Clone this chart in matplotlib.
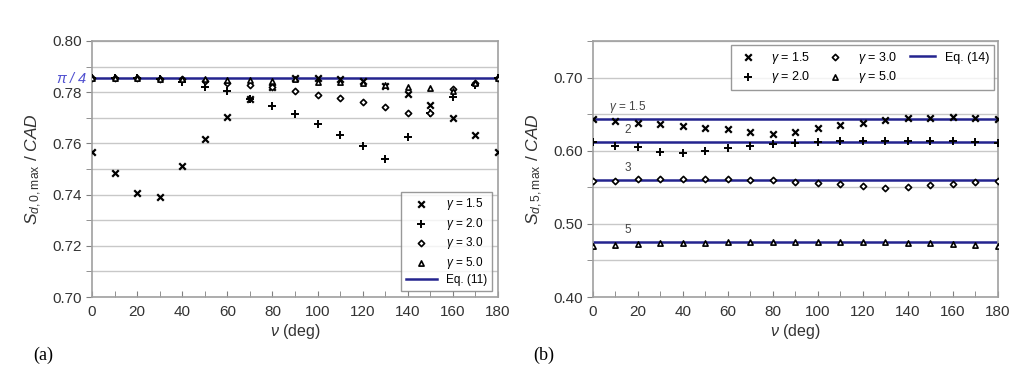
import numpy as np
import matplotlib
matplotlib.use('Agg')
import matplotlib.pyplot as plt
from matplotlib.ticker import MultipleLocator

plt.rcParams['font.family'] = ['Liberation Sans', 'DejaVu Sans']
plt.rcParams['mathtext.fontset'] = 'custom'
plt.rcParams['mathtext.rm'] = 'Liberation Sans'
plt.rcParams['mathtext.it'] = 'Liberation Sans:italic'
plt.rcParams['mathtext.bf'] = 'Liberation Sans:bold'

nu = [0, 10, 20, 30, 40, 50, 60, 70, 80, 90, 100, 110, 120, 130, 140, 150, 160, 170, 180]
gamma_labels = ['1.5', '2.0', '3.0', '5.0']

# panel (a): S_d,0,max / CAD
a_g15 = [0.7565, 0.7486, 0.7407, 0.7389, 0.7513, 0.7616, 0.7704, 0.7775, 0.7819, 0.7854,
         0.7854, 0.7852, 0.7844, 0.7826, 0.7792, 0.7750, 0.7699, 0.7633, 0.7565]
a_g20 = [0.7854, 0.7854, 0.7854, 0.7852, 0.7841, 0.7819, 0.7803, 0.7775, 0.7746, 0.7714,
         0.7675, 0.7634, 0.7590, 0.7538, 0.7626, 0.7718, 0.7782, 0.7828, 0.7854]
a_g30 = [0.7854, 0.7854, 0.7854, 0.7853, 0.7850, 0.7844, 0.7835, 0.7828, 0.7822, 0.7806,
         0.7790, 0.7777, 0.7763, 0.7743, 0.7720, 0.7718, 0.7811, 0.7835, 0.7854]
a_g50 = [0.7854, 0.7854, 0.7854, 0.7853, 0.7852, 0.7850, 0.7848, 0.7848, 0.7845, 0.7852,
         0.7841, 0.7839, 0.7835, 0.7828, 0.7819, 0.7817, 0.7805, 0.7835, 0.7854]
a_eq = np.pi / 4

# panel (b): S_d,5,max / CAD
b_g15 = [0.6427, 0.6408, 0.6380, 0.6359, 0.6336, 0.6313, 0.6295, 0.6258, 0.6222, 0.6258,
         0.6313, 0.6354, 0.6380, 0.6418, 0.6441, 0.6450, 0.6459, 0.6450, 0.6432]
b_g20 = [0.6113, 0.6067, 0.6045, 0.5985, 0.5963, 0.5999, 0.6040, 0.6067, 0.6090, 0.6109,
         0.6122, 0.6131, 0.6136, 0.6136, 0.6136, 0.6131, 0.6131, 0.6122, 0.6109]
b_g30 = [0.5585, 0.5585, 0.5608, 0.5613, 0.5617, 0.5617, 0.5608, 0.5604, 0.5595, 0.5576,
         0.5558, 0.5540, 0.5517, 0.5488, 0.5499, 0.5526, 0.5540, 0.5567, 0.5585]
b_g50 = [0.4703, 0.4712, 0.4726, 0.4735, 0.4744, 0.4744, 0.4749, 0.4749, 0.4758, 0.4758,
         0.4749, 0.4749, 0.4749, 0.4749, 0.4744, 0.4735, 0.4726, 0.4712, 0.4703]
b_eq = [0.6427, 0.6113, 0.5595, 0.4749]
b_eq_labels = [r'$\gamma$ = 1.5', '2', '3', '5']

blue = '#24248f'
gray = '#a0a0a0'
marker_styles = [dict(marker='x', s=22, c='k', linewidths=1.6),
                 dict(marker='+', s=34, c='k', linewidths=1.4),
                 dict(marker='D', s=10, facecolors='white', edgecolors='k', linewidths=1.2),
                 dict(marker='^', s=14, facecolors='white', edgecolors='k', linewidths=1.2)]

fig = plt.figure(figsize=(10.24, 3.83), dpi=100)
axa = fig.add_axes([0.0898, 0.2245, 0.3965, 0.6685])
axb = fig.add_axes([0.579, 0.2245, 0.3955, 0.6685])


def style_axes(ax, ylim, major, minor, fmt):
    ax.set_xlim(0, 180)
    ax.set_ylim(*ylim)
    ax.xaxis.set_major_locator(MultipleLocator(20))
    ax.xaxis.set_minor_locator(MultipleLocator(10))
    ax.yaxis.set_major_locator(MultipleLocator(major))
    ax.yaxis.set_minor_locator(MultipleLocator(minor))
    ax.yaxis.set_major_formatter(plt.FormatStrFormatter(fmt))
    ax.grid(True, axis='y', which='both', color='#c8c8c8', lw=1.0, zorder=0)
    for sp in ax.spines.values():
        sp.set_color(gray)
        sp.set_linewidth(1.2)
    ax.tick_params(axis='x', which='both', direction='in', length=4, color='#808080',
                   labelsize=11, labelcolor='#333333', pad=6)
    ax.tick_params(axis='y', which='both', direction='out', length=4, color='#808080',
                   labelsize=11, labelcolor='#333333', pad=3)
    ax.set_xlabel(r'$\nu$ (deg)', fontsize=11.5, color='#333333', labelpad=2)
    ax.set_axisbelow(True)


# (a)
style_axes(axa, (0.70, 0.80), 0.02, 0.01, '%.2f')
axa.plot(nu, [a_eq] * len(nu), color=blue, lw=1.8, zorder=2, label='Eq. (11)')
for vals, st, g in zip([a_g15, a_g20, a_g30, a_g50], marker_styles, gamma_labels):
    axa.scatter(nu, vals, zorder=3, label=r'$\gamma$ = ' + g, **st)
axa.text(-0.012, a_eq, r'$\pi$ / 4', transform=axa.get_yaxis_transform(), ha='right',
         va='center', color='#5050d0', fontsize=10.5, style='italic')
axa.set_ylabel(r'$S_{d,0,\mathrm{max}}$ / $CAD$', fontsize=12.5, color='#333333', labelpad=6)
h, l = axa.get_legend_handles_labels()
leg = axa.legend(h[1:] + h[:1], l[1:] + l[:1], loc='lower right', fontsize=8.5,
                 frameon=True, fancybox=False, edgecolor='#808080', handlelength=2.6,
                 borderaxespad=0.5, labelspacing=0.3)
leg.get_frame().set_linewidth(1.0)

# (b)
style_axes(axb, (0.40, 0.75), 0.10, 0.05, '%.2f')
for i, (v, lab) in enumerate(zip(b_eq, b_eq_labels)):
    axb.plot(nu, [v] * len(nu), color=blue, lw=1.8, zorder=2,
             label='Eq. (14)' if i == 0 else None)
    axb.text(7 if i == 0 else 14, v + 0.013, lab, fontsize=8.5, color='#444444')
for vals, st, g in zip([b_g15, b_g20, b_g30, b_g50], marker_styles, gamma_labels):
    axb.scatter(nu, vals, zorder=3, label=r'$\gamma$ = ' + g, **st)
axb.set_ylabel(r'$S_{d,5,\mathrm{max}}$ / $CAD$', fontsize=12.5, color='#333333', labelpad=6)
h, l = axb.get_legend_handles_labels()
leg = axb.legend(h[1:] + h[:1], l[1:] + l[:1], loc='upper right', ncol=3, fontsize=9,
                 frameon=True, fancybox=False, edgecolor='#808080', handlelength=2.0,
                 handletextpad=0.8, borderaxespad=0.3, labelspacing=0.3, columnspacing=1.0)
leg.get_frame().set_linewidth(1.0)

fig.text(0.032, 0.06, '(a)', fontsize=13, family='Liberation Serif')
fig.text(0.521, 0.06, '(b)', fontsize=13, family='Liberation Serif')

fig.savefig('out.png', dpi=100)
